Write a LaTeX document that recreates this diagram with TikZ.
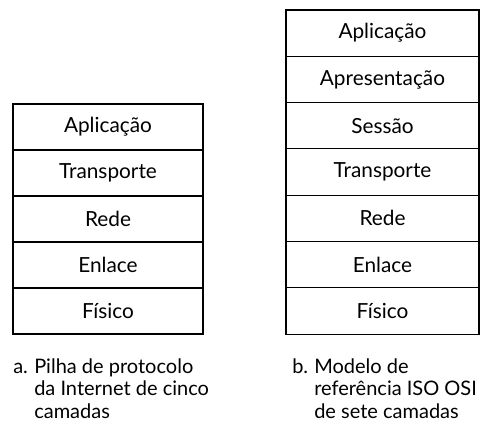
\documentclass[tikz,border=0pt]{standalone}
\usepackage{fontspec}
\setmainfont{Lato}
\usetikzlibrary{positioning}

\begin{document}
\begin{tikzpicture}[x=0.75pt,y=-0.75pt,
        camada/.style={draw, line width=0.8pt, outer sep=0pt, inner sep=0pt,
                minimum width=142.5pt, minimum height=34.5pt,
                font=\fontsize{15.6}{17}\selectfont},
        camada osi/.style={camada, minimum width=144.75pt, minimum height=34.72pt},
        legenda/.style={anchor=base west, inner sep=0pt,
                font=\fontsize{15}{16.9}\selectfont}]
        \useasboundingbox (0,0) rectangle (481,424);

        % pilha de cinco camadas
        \node[camada, anchor=north] (aplicacao) at (108,104) {Aplicação};
        \node[camada] (transporte) [below=0pt of aplicacao] {Transporte};
        \node[camada] (rede) [below=0pt of transporte] {Rede};
        \node[camada] (enlace) [below=0pt of rede] {Enlace};
        \node[camada] (fisico) [below=0pt of enlace] {Físico};

        % modelo ISO OSI
        \node[camada osi, anchor=north] (aplicacao osi) at (382.5,10) {Aplicação};
        \node[camada osi] (apresentacao osi) [below=0pt of aplicacao osi] {Apresentação};
        \node[camada osi] (sessao osi) [below=0pt of apresentacao osi] {Sessão};
        \node[camada osi] (transporte osi) [below=0pt of sessao osi] {Transporte};
        \node[camada osi] (rede osi) [below=0pt of transporte osi] {Rede};
        \node[camada osi] (enlace osi) [below=0pt of rede osi] {Enlace};
        \node[camada osi] (fisico osi) [below=0pt of enlace osi] {Físico};

        \node[legenda] (legenda a) at (13,373)
                {\begin{tabular}[t]{@{}p{15.75pt}@{}l@{}}a. & Pilha de protocolo\\
                        & da Internet de cinco\\ & camadas\end{tabular}};
        \node[legenda] (legenda b) at (292,373)
                {\begin{tabular}[t]{@{}p{16.5pt}@{}l@{}}b. & Modelo de\\
                        & referência ISO OSI\\ & de sete camadas\end{tabular}};
\end{tikzpicture}
\end{document}
